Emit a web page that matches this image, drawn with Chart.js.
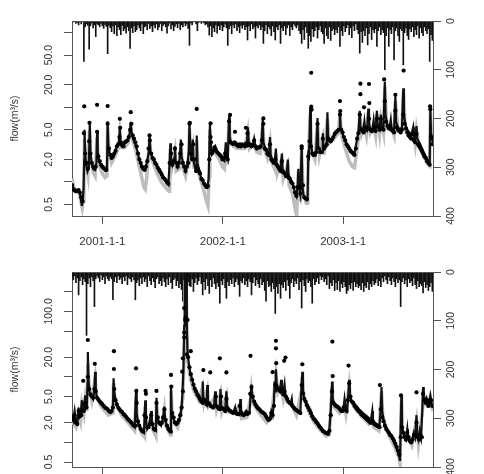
<!DOCTYPE html>
<html>
<head>
<meta charset="utf-8">
<script src="https://cdn.jsdelivr.net/npm/chart.js@4.4.0/dist/chart.umd.min.js"></script>
<style>
  body { margin: 0; background: #fff; }
  canvas { position: absolute; left: 0; }
  #topChart { top: 0; }
  #botChart { top: 250px; }
</style>
</head>
<body>
<canvas id="topChart" width="484" height="250"></canvas>
<canvas id="botChart" width="484" height="224"></canvas>
<script>
// x axis is days since 2000-10-01
var dateTickDays = [92, 457, 822];
var dateTickLabels = ['2001-1-1', '2002-1-1', '2003-1-1'];
var rainTicks = [0, 100, 200, 300, 400];

var topFlowTicks = [0.5, 1, 2, 5, 10, 20, 50, 100];
var topFlowLabels = ['0.5', '', '2.0', '5.0', '', '20.0', '50.0', ''];
var botFlowTicks = [0.5, 1, 2, 5, 10, 20, 50, 100, 200];
var botFlowLabels = ['0.5', '', '2.0', '5.0', '', '20.0', '', '100.0', ''];

// ---- top panel ----
// simulated flow (black), [day, m3/s]
var topBlack = [[0,0.95],[4,0.8],[10,0.76],[18,0.78],[24,0.72],[28,0.55],[30,0.48],[33,0.6],[35,0.8],[37,2.0],[38,5.0],[40,2.4],[43,1.7],[47,1.4],[51,1.6],[54,6.4],[56,2.4],[60,1.8],[65,1.5],[70,1.45],[74,1.8],[76,4.7],[78,2.5],[82,1.9],[88,1.65],[95,1.5],[101,1.4],[106,1.45],[108,6.5],[110,3.2],[114,2.4],[120,2.1],[126,2.3],[131,2.6],[136,3.0],[142,3.3],[145,5.2],[147,3.4],[152,3.0],[158,3.2],[164,3.4],[170,3.7],[175,4.5],[178,6.3],[181,4.5],[186,3.8],[192,3.2],[198,2.6],[204,2.0],[210,1.7],[216,1.5],[222,1.5],[228,1.9],[233,2.6],[235,4.1],[238,2.5],[244,2.1],[250,1.9],[256,1.7],[262,1.5],[268,1.35],[274,1.2],[280,1.1],[286,1.0],[292,0.92],[296,1.8],[298,3.3],[300,2.0],[304,1.7],[310,2.1],[312,3.0],[314,1.9],[320,1.6],[326,2.0],[330,3.7],[332,2.2],[338,1.7],[344,1.4],[350,1.7],[354,2.6],[356,6.2],[358,3.2],[362,2.0],[366,3.7],[368,2.0],[372,1.6],[376,1.4],[378,4.2],[380,1.8],[386,1.4],[392,1.1],[398,1.0],[404,0.9],[410,0.85],[414,1.1],[418,6.0],[420,3.2],[424,2.4],[430,2.8],[434,3.0],[438,2.6],[444,2.4],[450,2.2],[456,2.0],[462,1.9],[466,3.4],[468,2.2],[472,2.0],[476,7.6],[478,4.0],[482,3.3],[488,3.3],[494,3.4],[500,3.1],[506,3.0],[512,3.0],[518,3.2],[524,3.1],[530,3.0],[533,5.4],[536,3.2],[542,3.0],[548,3.1],[552,3.8],[556,3.0],[562,2.8],[568,2.9],[574,3.0],[578,7.0],[580,3.4],[586,2.8],[592,2.5],[597,2.3],[600,4.0],[602,2.3],[608,1.9],[614,1.8],[618,2.8],[620,1.7],[626,1.5],[632,1.4],[636,2.4],[638,1.5],[644,1.3],[650,1.2],[654,2.0],[656,1.25],[662,1.1],[668,0.95],[672,0.85],[676,0.7],[680,0.64],[684,0.9],[686,1.5],[688,0.85],[692,0.68],[696,3.0],[698,0.9],[702,0.64],[706,0.6],[710,0.58],[714,0.6],[716,2.3],[718,2.2],[720,4.0],[722,10.0],[724,3.4],[728,2.4],[734,2.3],[740,2.5],[744,7.2],[746,3.0],[752,2.6],[758,2.5],[760,4.5],[762,2.8],[768,3.0],[772,3.3],[774,8.6],[776,4.0],[782,3.6],[788,3.8],[794,4.2],[800,4.6],[806,4.8],[810,5.0],[812,8.8],[814,5.4],[818,4.8],[822,4.2],[828,3.6],[834,3.1],[840,2.8],[846,2.6],[852,2.5],[856,2.4],[860,3.0],[864,3.8],[868,4.6],[872,9.0],[874,5.6],[878,5.0],[882,4.8],[886,6.4],[888,5.0],[894,4.8],[898,9.6],[900,6.0],[904,5.2],[910,4.8],[914,6.6],[916,5.2],[920,5.0],[924,9.0],[926,6.0],[932,5.2],[936,8.0],[938,5.6],[944,5.4],[948,22],[950,8],[954,6.2],[958,5.6],[962,5.2],[966,6.8],[968,5.4],[972,5.0],[976,4.8],[980,14],[982,6.4],[988,5.4],[994,5.0],[1000,5.4],[1004,18],[1006,8],[1010,6.0],[1016,5.0],[1022,4.6],[1028,4.2],[1034,5.4],[1036,4.0],[1040,3.7],[1044,5.6],[1046,3.8],[1052,3.4],[1058,3.0],[1064,2.6],[1070,2.3],[1076,2.0],[1080,1.85],[1084,1.75],[1086,10],[1088,4.5],[1092,3.6],[1094,3.4]];
// second simulation (grey)
var topGrey = [[0,1.1],[6,0.85],[14,0.75],[22,0.72],[28,0.52],[31,0.45],[34,0.55],[36,0.75],[38,3.8],[42,1.8],[48,1.25],[53,5.0],[57,1.9],[64,1.35],[70,1.2],[76,4.0],[80,1.9],[90,1.35],[100,1.15],[106,1.2],[108,5.5],[112,2.6],[120,1.8],[130,2.2],[140,2.8],[145,4.6],[150,2.9],[160,2.9],[170,3.3],[178,5.2],[184,3.6],[194,2.6],[204,1.6],[212,1.1],[218,0.85],[222,0.8],[226,1.1],[230,1.8],[235,3.6],[240,2.1],[250,1.6],[260,1.25],[270,1.0],[280,0.88],[290,0.78],[294,0.75],[296,1.5],[298,2.8],[302,1.5],[312,2.6],[316,1.4],[326,1.5],[330,3.2],[334,1.7],[344,1.2],[354,2.2],[356,5.2],[360,2.2],[366,3.0],[370,1.5],[378,3.6],[382,1.4],[392,1.0],[400,0.75],[406,0.58],[412,0.48],[416,1.2],[418,5.0],[422,2.6],[432,2.5],[444,2.1],[456,1.6],[462,1.5],[466,2.8],[470,1.7],[476,6.5],[480,3.4],[490,3.0],[500,2.8],[512,2.8],[524,2.8],[533,4.8],[538,2.8],[550,3.2],[560,2.5],[570,2.4],[578,6.0],[582,2.8],[592,2.1],[600,3.4],[604,1.9],[614,1.5],[618,2.4],[622,1.3],[636,2.0],[640,1.1],[654,1.7],[658,0.9],[668,0.7],[674,0.5],[678,0.4],[681,0.36],[684,0.8],[686,1.4],[690,0.55],[696,2.6],[700,0.75],[710,0.52],[714,0.52],[716,2.0],[722,8.5],[726,2.6],[736,2.0],[744,6.2],[750,2.3],[760,3.8],[764,2.3],[774,7.0],[780,3.3],[794,3.8],[806,4.4],[812,7.8],[818,4.0],[828,2.8],[840,1.9],[850,1.6],[856,1.55],[862,2.4],[868,3.8],[872,8.0],[878,4.4],[886,5.6],[892,4.2],[898,8.5],[904,4.6],[914,5.8],[920,4.2],[924,8.0],[932,4.4],[936,7.0],[944,4.6],[948,19],[954,5.4],[966,5.8],[976,4.2],[980,12],[988,4.8],[1000,5.0],[1004,16],[1010,5.0],[1022,4.0],[1034,4.8],[1040,3.2],[1044,5.0],[1052,3.0],[1064,2.3],[1076,1.8],[1084,1.65],[1086,8.5],[1090,4.0],[1094,3.6]];
// observed flow, one value every 4 days (each row = 40 days)
var topObs = [
  0.9,0.8,0.77,0.75,0.76,0.78,0.72,0.62,0.55,4.5,
  2.4,1.8,1.5,3.5,2.4,1.8,1.6,1.5,1.6,4.7,
  2.2,1.9,1.7,1.6,1.55,1.5,1.45,6.0,2.8,2.3,
  2.1,2.2,2.4,2.6,3.0,3.2,4.0,3.4,3.1,3.0,
  3.4,3.5,3.6,4.0,5.0,6.0,4.2,3.8,3.4,3.0,
  2.4,2.0,1.8,1.6,1.5,1.45,1.6,1.9,2.8,3.6,
  2.4,2.1,2.0,1.8,1.7,1.55,1.45,1.35,1.25,1.15,
  1.1,1.05,0.98,0.94,1.8,2.4,1.7,1.9,2.8,1.8,
  1.6,1.8,2.4,3.2,1.8,1.6,1.4,1.6,1.8,6.0,
  2.4,2.0,3.2,2.0,1.4,1.5,1.4,1.3,1.1,1.05,
  0.95,0.9,0.85,0.88,2.0,4.0,2.4,2.6,2.9,2.7,
  2.5,2.4,2.3,2.2,2.0,2.1,2.4,2.2,2.0,6.5,
  3.4,3.3,3.2,3.4,3.3,3.1,3.0,3.2,3.0,3.2,
  3.1,3.0,3.3,4.5,3.1,3.2,3.0,3.1,3.6,3.0,
  2.8,2.9,2.9,3.0,3.6,6.0,2.8,2.7,2.4,2.3,
  3.2,2.0,1.9,1.8,2.0,1.7,1.6,1.5,1.4,1.9,
  1.35,1.3,1.2,1.25,1.15,1.1,1.0,0.95,0.85,0.72,
  0.65,0.85,0.85,0.7,2.8,0.9,0.62,0.6,0.58,2.2,
  3.5,3.0,2.4,2.3,2.3,2.5,6.0,2.8,2.5,2.5,
  3.8,2.8,3.0,3.2,3.8,3.6,3.5,3.7,4.0,4.4,
  4.6,4.8,5.0,8.0,5.0,4.6,4.0,3.6,3.2,3.0,
  2.8,2.6,2.5,2.4,2.3,2.8,3.8,4.5,8.0,5.0,
  4.8,4.6,5.4,5.0,5.2,7.0,5.0,4.8,5.0,5.4,
  4.8,7.0,5.4,5.0,7.0,5.2,5.0,12,6.4,5.6,
  5.2,5.4,5.0,4.8,4.6,9.0,5.4,5.0,4.8,4.6,
  5.0,8.0,6.0,5.2,4.6,4.2,4.0,3.8,4.4,3.6,
  3.4,4.4,3.2,3.0,2.8,2.6,2.4,2.2,2.1,1.9,
  1.8,1.7,4.0,3.2
];
// observed peaks, [day, m3/s]
var topObsPeaks = [[37,10.3],[53,6.2],[76,10.8],[108,10.4],[145,7.0],[146,5.3],[178,8.6],[235,4.2],[357,6.2],[378,9.5],[420,6.1],[421,3.4],[479,7.9],[494,4.7],[527,5.3],[580,7.1],[696,3.0],[725,29],[725,10.2],[726,9.3],[812,12.1],[813,8.9],[874,20.7],[874,15],[885,10.0],[900,20.5],[901,11.4],[946,23.6],[980,14.7],[1005,31],[1085,10.3],[1086,9.4]];
// rainfall (mm), one value every 4 days
var topRain = [
  0,2,0,5,3,8,2,6,0,83,
  12,6,9,58,10,4,14,8,32,6,
  8,12,5,10,15,7,11,67,9,14,
  22,10,26,8,30,12,18,28,9,20,
  16,25,12,20,56,14,24,10,22,18,
  8,14,20,6,26,12,10,18,5,15,
  10,22,8,14,6,18,12,5,20,9,
  6,12,25,10,4,16,8,20,11,6,
  14,5,18,8,12,4,10,6,15,50,
  4,8,2,0,6,20,3,0,5,2,
  4,8,6,12,29,10,32,14,22,8,
  25,10,18,8,20,12,6,14,50,16,
  10,26,8,14,6,20,12,24,9,15,
  8,18,12,39,10,20,6,16,12,35,
  10,14,8,18,12,46,20,8,26,12,
  16,30,10,22,39,12,18,8,46,14,
  20,10,28,14,8,30,12,18,6,10,
  14,8,20,26,46,18,38,12,24,56,
  30,42,16,32,20,12,35,18,10,22,
  26,46,14,30,36,12,40,20,16,28,
  18,24,12,52,20,30,10,22,14,8,
  28,14,34,10,20,6,18,26,66,22,
  44,20,30,14,49,26,12,38,18,24,
  16,52,20,12,28,18,24,100,30,14,
  52,18,26,12,80,20,14,30,42,16,
  20,90,24,14,30,38,16,22,12,32,
  18,28,10,35,14,24,30,12,20,26,
  16,83,28,40
];

// ---- bottom panel ----
var botBlack = [[0,2.6],[4,2.2],[8,3.0],[12,2.0],[16,1.9],[20,3.4],[22,2.4],[26,2.6],[30,4.4],[32,3.0],[36,3.2],[40,5.2],[42,3.4],[45,3.6],[47,8.0],[48,24],[50,9],[53,6.0],[56,5.2],[60,5.0],[64,4.6],[68,6.5],[70,12],[72,6.0],[76,4.8],[82,4.4],[88,4.0],[94,3.6],[100,3.4],[106,3.2],[112,3.0],[118,2.9],[124,3.4],[126,9.5],[128,6.0],[132,4.4],[138,3.6],[144,3.2],[150,3.0],[156,2.7],[162,2.5],[168,2.3],[174,2.1],[180,1.95],[186,1.8],[190,1.7],[194,6.0],[196,2.8],[200,2.0],[206,1.7],[212,1.5],[218,1.4],[222,4.4],[224,2.2],[228,1.6],[234,1.8],[240,3.0],[242,1.9],[248,1.6],[254,1.5],[256,4.8],[258,2.4],[264,2.0],[270,1.8],[276,2.4],[280,3.5],[282,2.2],[288,1.8],[294,1.5],[298,1.45],[300,7.5],[302,3.0],[306,2.4],[312,2.0],[318,1.9],[324,2.2],[328,2.6],[332,3.4],[335,6],[338,14],[340,60],[342,450],[344,90],[346,450],[348,60],[350,24],[354,16],[358,12],[362,10],[366,8.4],[370,7.0],[374,6.2],[378,5.6],[382,5.0],[386,4.5],[390,4.2],[394,4.0],[396,8.5],[398,4.6],[404,4.0],[408,3.7],[410,7.5],[412,4.2],[418,3.8],[424,3.5],[430,3.4],[434,6.0],[436,3.8],[442,3.4],[448,3.2],[450,6.5],[452,3.6],[458,3.2],[464,3.0],[468,6.0],[470,3.5],[476,3.1],[482,2.9],[488,2.8],[494,3.4],[496,2.8],[502,2.7],[508,2.6],[510,4.6],[512,2.8],[518,2.6],[524,2.7],[528,3.0],[532,2.7],[538,2.8],[542,5.8],[544,7.6],[546,5.4],[550,4.4],[556,3.8],[562,3.4],[568,3.2],[574,3.0],[580,2.8],[586,2.6],[590,2.4],[594,2.2],[600,2.4],[604,3.0],[608,2.6],[612,4.0],[614,8.5],[616,6.0],[618,13],[620,8.0],[624,6.8],[630,6.0],[634,9],[636,6.0],[640,5.6],[644,7.6],[646,5.4],[650,5.0],[654,4.4],[658,4.0],[662,3.8],[666,4.6],[668,3.6],[674,3.3],[680,3.1],[686,2.9],[692,2.8],[696,8.0],[698,12],[700,6],[704,4.6],[710,4.0],[716,3.4],[722,3.0],[728,2.6],[734,2.3],[740,2.1],[746,1.9],[752,1.7],[758,1.55],[764,1.45],[770,1.4],[776,1.35],[780,1.6],[784,3.0],[788,8.5],[790,4.6],[794,4.0],[798,3.7],[804,3.5],[810,3.3],[816,3.0],[822,3.0],[826,4.6],[830,3.2],[834,3.0],[838,6.0],[840,9],[842,5.6],[846,4.4],[858,3.8],[870,3.2],[882,2.8],[894,2.5],[906,2.2],[910,3.0],[912,2.1],[924,1.9],[932,1.8],[936,3.6],[938,7.0],[940,3.0],[946,2.0],[952,1.7],[958,1.5],[964,1.3],[970,1.2],[976,1.0],[982,0.85],[988,0.7],[992,0.6],[994,0.52],[998,5.0],[1000,1.8],[1004,1.4],[1008,1.2],[1012,1.1],[1016,1.6],[1018,1.2],[1024,1.0],[1030,1.05],[1036,1.4],[1040,1.2],[1044,2.6],[1046,1.3],[1050,1.1],[1054,1.5],[1058,1.2],[1062,3.5],[1064,7.0],[1066,5.0],[1070,4.4],[1074,4.8],[1078,3.8],[1082,4.2],[1086,5.2],[1090,3.8],[1094,3.4]];
var botGrey = [[0,2.4],[6,1.9],[12,1.7],[20,2.8],[26,2.1],[30,3.8],[36,2.7],[40,4.4],[45,3.0],[48,16],[52,7],[60,4.4],[70,9.5],[74,5.0],[90,3.4],[110,2.6],[124,2.8],[126,8],[130,4.4],[150,2.6],[170,2.0],[190,1.5],[194,5],[198,2.2],[210,1.4],[220,1.2],[222,3.6],[226,1.6],[240,2.5],[244,1.6],[254,1.25],[256,4.0],[262,1.9],[276,2.0],[280,3.0],[284,1.8],[298,1.3],[300,6.0],[304,2.4],[320,1.7],[330,2.6],[336,5],[340,28],[342,300],[344,50],[346,250],[350,18],[360,9],[370,6],[384,4.4],[396,7.0],[400,4.0],[410,6.4],[414,3.6],[434,5.0],[438,3.2],[450,5.6],[454,3.0],[468,5.2],[472,2.9],[494,2.8],[510,3.8],[514,2.3],[530,2.4],[542,5],[544,6.5],[550,3.8],[570,2.7],[590,2.0],[604,2.4],[614,7.0],[618,11],[624,5.8],[634,7.5],[640,4.8],[644,6.4],[650,4.2],[666,3.8],[680,2.6],[696,6.5],[698,10],[702,5],[716,3.0],[734,2.0],[752,1.55],[770,1.25],[780,1.3],[788,7],[792,3.6],[810,2.8],[826,3.8],[830,2.8],[840,7.5],[844,4.6],[860,3.2],[880,2.4],[900,1.9],[910,2.4],[914,1.7],[930,1.5],[938,6],[942,2.4],[960,1.3],[980,0.8],[990,0.6],[994,0.48],[998,4.2],[1002,1.4],[1016,1.3],[1030,0.9],[1044,2.2],[1050,0.95],[1062,3.0],[1064,6.0],[1070,3.8],[1082,3.6],[1086,4.6],[1094,3.0]];
var botObs = [
  2.5,2.2,2.6,2.0,1.9,3.0,2.5,2.6,3.2,3.0,
  4.0,3.4,10,6.5,5.4,5.0,4.8,6.5,6.0,4.8,
  4.5,4.2,4.0,3.8,3.6,3.4,3.3,3.2,3.0,2.9,
  3.0,3.4,6.5,4.4,3.8,3.4,3.2,3.0,2.9,2.7,
  2.6,2.45,2.3,2.2,2.1,2.0,1.85,1.8,1.8,4.0,
  2.1,1.8,1.6,1.5,1.45,2.6,2.4,1.7,1.7,1.9,
  2.6,1.9,1.6,1.55,4.0,2.4,2.0,1.9,2.0,2.4,
  3.2,2.2,1.8,1.6,1.5,1.45,2.8,2.4,2.0,1.9,
  2.0,2.2,2.6,3.4,6,40,80,22,20,14,
  11,9.0,7.6,6.6,6.0,5.4,5.0,4.6,4.2,4.0,
  4.5,4.2,3.8,3.9,3.9,3.6,3.5,3.4,3.6,5.0,
  3.5,3.3,3.2,5.0,3.3,3.2,3.0,4.6,3.3,3.1,
  3.0,2.9,2.8,2.9,2.9,2.7,2.7,3.6,2.9,2.7,
  2.6,2.7,2.9,2.7,2.8,5.5,7.0,5.0,4.2,3.8,
  3.5,3.3,3.2,3.0,2.9,2.8,2.7,2.5,2.3,2.2,
  2.3,2.8,2.6,3.6,7.5,7.0,6.6,6.2,6.0,6.4,
  5.4,6.0,5.0,4.6,4.2,4.0,3.9,3.6,3.4,3.2,
  3.1,3.0,2.9,2.8,7.5,5.6,4.6,4.2,3.7,3.4,
  3.1,2.8,2.5,2.3,2.2,2.05,1.95,1.8,1.7,1.6,
  1.5,1.45,1.4,1.38,1.35,1.5,2.6,6.0,4.0,3.8,
  3.6,3.5,3.4,3.2,3.0,3.0,3.4,3.2,3.0,4.4,
  8,5.0,4.2,4.0,3.6,3.4,3.2,3.0,2.9,2.7,
  2.6,2.5,2.4,2.3,2.2,2.1,2.0,2.0,2.1,1.9,
  1.85,1.8,1.75,1.7,3.2,2.4,2.1,1.8,1.6,1.5,
  1.4,1.3,1.25,1.15,1.05,0.95,0.85,0.75,0.65,1.2,
  1.7,1.4,1.2,1.1,1.4,1.2,1.05,1.0,1.1,1.3,
  1.3,2.0,1.2,1.1,1.3,1.2,5.5,4.4,4.0,4.4,
  3.6,4.0,4.4,3.6
];
var botObsPeaks = [[34,8.7],[48,36.6],[69,15.8],[127,24.7],[127,13.2],[194,13.5],[195,6.1],[223,6.1],[224,5.5],[256,6.1],[300,10.7],[301,7.1],[334,12],[336,19.2],[340,47.5],[340,112],[343,74],[350,74],[360,24.7],[398,12.7],[419,11.7],[448,19.2],[468,11.7],[541,21],[608,11.8],[618,35.6],[618,27.3],[619,16.2],[643,17.6],[647,19.7],[698,15.6],[789,34.6],[790,10.3],[838,14.9],[933,7.5],[997,5.2],[1044,5.8]];
var botRain = [
  10,16,8,22,12,47,18,10,26,14,
  20,130,24,12,30,10,18,71,14,8,
  12,20,6,16,10,24,8,14,18,10,
  14,57,20,10,22,8,16,12,24,10,
  18,8,26,12,14,20,10,16,57,22,
  16,28,12,24,10,20,14,30,8,18,
  26,12,20,32,14,10,24,18,28,12,
  20,30,14,26,10,22,34,16,12,28,
  18,32,24,36,60,98,70,40,20,28,
  30,14,40,22,12,26,18,10,24,47,
  20,36,14,28,44,16,30,12,24,34,
  22,30,64,18,26,14,32,54,20,28,
  16,24,12,30,20,14,26,50,18,22,
  12,26,18,30,14,20,47,22,10,28,
  16,24,32,14,26,20,38,60,18,30,
  28,40,22,34,85,30,44,24,54,26,
  32,20,38,16,28,54,22,14,30,18,
  24,12,36,20,74,16,28,40,14,22,
  18,30,64,14,26,20,12,24,8,16,
  10,20,14,26,8,34,22,28,16,38,
  22,36,18,40,24,32,20,30,44,38,
  26,34,22,38,20,30,24,32,28,36,
  22,40,28,32,20,36,24,30,18,26,
  22,14,28,18,30,12,20,8,16,24,
  10,18,26,12,20,30,14,22,16,71,
  20,12,24,16,30,14,22,18,28,12,
  26,34,18,30,24,28,43,20,32,26,
  38,30,22,40
];

var FONT = '"Liberation Sans", Arial, sans-serif';
var AXIS = '#555';
var TEXT = '#333';

function pairs(list) {
  return list.map(function (p) { return { x: p[0], y: p[1] }; });
}
function stepped(values, step) {
  return values.map(function (v, i) { return { x: i * step, y: v }; });
}

function rotText(ctx, text, x, y) {
  ctx.save();
  ctx.translate(x, y);
  ctx.rotate(-Math.PI / 2);
  ctx.fillText(text, 0, 0);
  ctx.restore();
}

// R-style box, rotated tick labels and axis title
var rLabels = {
  id: 'rLabels',
  afterDraw: function (chart, args, opts) {
    var ctx = chart.ctx, a = chart.chartArea;
    var y = chart.scales.y, y2 = chart.scales.y2;
    ctx.save();
    ctx.strokeStyle = AXIS;
    ctx.lineWidth = 1;
    ctx.beginPath();
    ctx.moveTo(a.left, Math.round(a.top) + 0.5);
    ctx.lineTo(a.right, Math.round(a.top) + 0.5);
    ctx.stroke();
    ctx.fillStyle = TEXT;
    ctx.font = '10.5px ' + FONT;
    ctx.textAlign = 'center';
    ctx.textBaseline = 'middle';
    opts.ticks.forEach(function (v, i) {
      if (opts.labels[i]) rotText(ctx, opts.labels[i], 49, y.getPixelForValue(v));
    });
    rainTicks.forEach(function (v) {
      rotText(ctx, String(v), 451, y2.getPixelForValue(v));
    });
    rotText(ctx, 'flow(m\u00b3/s)', 15, (a.top + a.bottom) / 2);
    ctx.restore();
  }
};

function drawPanel(id, p) {
  return new Chart(document.getElementById(id), {
    type: 'line',
    data: {
      datasets: [
        {
          label: 'observed',
          data: stepped(p.obs, 4).concat(pairs(p.peaks)),
          showLine: false,
          pointRadius: 2.1,
          pointBorderWidth: 0,
          pointBackgroundColor: '#000',
          borderColor: '#000'
        },
        {
          label: 'simulated',
          data: pairs(p.black),
          borderColor: '#111',
          borderWidth: 2.2,
          pointRadius: 0
        },
        {
          label: 'simulated 2',
          data: pairs(p.grey),
          borderColor: '#bdbdbd',
          borderWidth: 3.5,
          pointRadius: 0
        },
        {
          type: 'bar',
          label: 'rain',
          yAxisID: 'y2',
          data: stepped(p.rain, 4),
          backgroundColor: '#111',
          barThickness: 1,
          grouped: false,
          borderWidth: 0
        }
      ]
    },
    options: {
      responsive: false,
      animation: false,
      events: [],
      layout: { padding: { top: p.padTop, left: 0, right: 0, bottom: 0 } },
      plugins: {
        legend: { display: false },
        tooltip: { enabled: false },
        rLabels: { ticks: p.flowTicks, labels: p.flowLabels }
      },
      scales: {
        x: {
          type: 'linear',
          min: 0,
          max: 1094,
          offset: false,
          afterBuildTicks: function (s) { s.ticks = dateTickDays.map(function (v) { return { value: v }; }); },
          afterFit: function (s) { s.height = p.xHeight; },
          ticks: {
            display: p.showDates,
            autoSkip: false,
            maxRotation: 0,
            padding: 11,
            color: TEXT,
            font: { family: FONT, size: 11.5 },
            callback: function (v, i) { return dateTickLabels[i]; }
          },
          grid: { drawOnChartArea: false, offset: false, tickLength: 8, color: AXIS },
          border: { color: AXIS }
        },
        y: {
          type: 'logarithmic',
          position: 'left',
          min: p.yMin,
          max: p.yMax,
          afterBuildTicks: function (s) { s.ticks = p.flowTicks.map(function (v) { return { value: v }; }); },
          afterFit: function (s) { s.width = 72; },
          ticks: { display: false },
          grid: { drawOnChartArea: false, tickLength: 8, color: AXIS },
          border: { color: AXIS }
        },
        y2: {
          type: 'linear',
          position: 'right',
          reverse: true,
          min: 0,
          max: 400,
          afterBuildTicks: function (s) { s.ticks = rainTicks.map(function (v) { return { value: v }; }); },
          afterFit: function (s) { s.width = 51; },
          ticks: { display: false },
          grid: { drawOnChartArea: false, tickLength: 8, color: AXIS },
          border: { color: AXIS }
        }
      }
    },
    plugins: [rLabels]
  });
}

var topChart = drawPanel('topChart', {
  obs: topObs, peaks: topObsPeaks, black: topBlack, grey: topGrey, rain: topRain,
  flowTicks: topFlowTicks, flowLabels: topFlowLabels,
  yMin: 0.35, yMax: 143, padTop: 21, xHeight: 34, showDates: true
});
var botChart = drawPanel('botChart', {
  obs: botObs, peaks: botObsPeaks, black: botBlack, grey: botGrey, rain: botRain,
  flowTicks: botFlowTicks, flowLabels: botFlowLabels,
  yMin: 0.42, yMax: 400, padTop: 22, xHeight: 7, showDates: false
});
</script>
</body>
</html>
